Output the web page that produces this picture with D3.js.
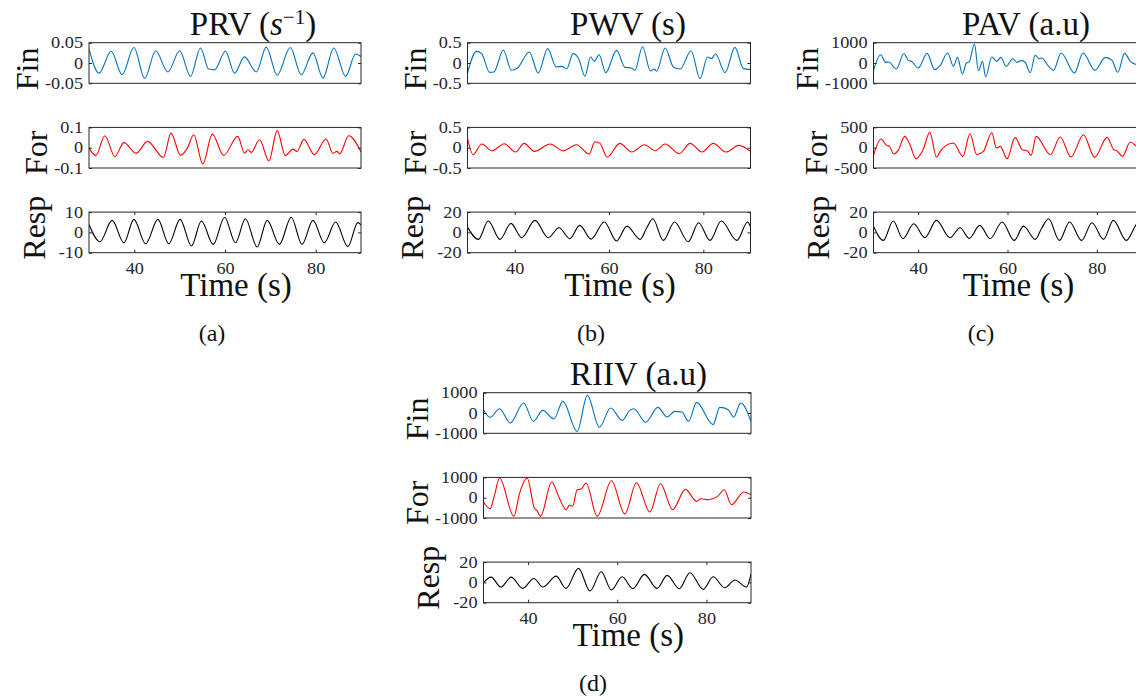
<!DOCTYPE html>
<html>
<head>
<meta charset="utf-8">
<script src="https://cdn.jsdelivr.net/npm/d3@7"></script>
<style>
  body { margin: 0; background: #fff; }
  svg { display: block; }
</style>
</head>
<body>
<svg id="fig" width="1136" height="700"></svg>
<script>
// traces, [time (s), value]
const prvFin = [[30,0.035],[32.2,-0.025],[34.9,0.029],[37.3,-0.029],[39.9,0.038],[42.3,-0.038],[44.7,0.030],[47.4,-0.022],[50.0,0.030],[52.4,-0.033],[54.6,0.037],[56.4,-0.015],[57.7,-0.017],[60.1,0.029],[62.1,-0.025],[64.3,0.015],[66.9,-0.022],[69.1,0.039],[71.5,-0.030],[74.4,0.038],[76.8,-0.029],[79.4,0.025],[81.6,-0.037],[84.0,0.037],[86.6,-0.033],[88.8,0.022],[90,0.016]];
const prvFor = [[30,-0.002],[31.5,-0.038],[33.5,0.059],[35.7,-0.044],[37.7,0.025],[40.4,-0.028],[42.9,0.031],[46.4,-0.048],[48.1,0.072],[50.2,-0.038],[51.7,-0.002],[53.1,0.064],[55.1,-0.080],[57.2,0.067],[59.7,-0.038],[62.8,0.056],[64.3,-0.026],[65.1,-0.010],[65.8,-0.023],[67.6,0.039],[69.7,-0.064],[71.5,0.084],[73.3,-0.039],[75.0,-0.007],[75.9,-0.018],[77.4,0.041],[79.7,-0.034],[82.3,0.043],[83.8,-0.028],[84.7,-0.018],[85.3,-0.030],[87.3,0.059],[90,-0.021]];
const prvResp = [[30,3.9],[32.4,-4.6],[35.1,5.9],[37.7,-5.1],[39.9,6.4],[42.5,-5.6],[45.2,6.4],[47.6,-5.6],[50.1,6.4],[52.6,-6.7],[54.8,5.6],[57.4,-5.9],[59.9,7.5],[62.3,-5.1],[64.5,6.7],[67.1,-7.2],[69.3,5.9],[72.0,-5.9],[74.6,7.5],[77.0,-5.9],[79.4,5.9],[81.9,-5.1],[84.4,5.1],[87.1,-7.0],[89.3,4.8],[90,3.6]];

const pwvFin = [[30,-0.246],[31.9,0.287],[33.0,0.230],[34.7,-0.230],[35.6,-0.221],[37.6,0.320],[39.3,-0.180],[40.6,-0.123],[43.1,0.271],[45.0,-0.246],[47.0,0.353],[48.8,-0.098],[50.0,-0.082],[51.0,-0.148],[52.4,0.230],[53.6,0.098],[54.9,-0.328],[56.1,0.148],[56.9,0.041],[57.9,0.205],[59.3,-0.238],[61.6,0.312],[63.4,-0.107],[64.8,-0.123],[65.5,-0.180],[67.1,0.402],[68.8,-0.197],[69.6,-0.148],[70.1,-0.205],[71.9,0.369],[73.7,-0.107],[75.1,-0.148],[77.4,0.303],[79.3,-0.385],[80.9,0.148],[81.7,0.107],[82.6,0.221],[84.6,-0.238],[86.7,0.385],[88.5,-0.139],[90,-0.164]];
const pwvFor = [[30,0.238],[31.2,-0.172],[33.0,0.090],[35.2,-0.074],[37.8,0.098],[40.2,-0.107],[42.0,0.107],[44.2,-0.090],[47.5,0.090],[50.3,-0.074],[53.1,0.074],[55.8,-0.156],[57.0,0.148],[58.1,0.107],[59.6,-0.230],[62.3,0.107],[64.8,-0.107],[67.5,0.074],[69.8,-0.074],[71.9,0.090],[74.9,-0.148],[77.2,0.107],[79.7,-0.107],[82.1,0.107],[84.8,-0.107],[87.5,0.057],[90,-0.090]];
const pwvResp = [[30,5.2],[32.3,-6.9],[34.4,11.2],[36.9,-6.9],[39.2,8.9],[41.5,-5.2],[44.3,11.8],[47.1,-5.2],[49.4,4.6],[51.7,-6.2],[53.8,6.9],[56.2,-6.6],[59.0,10.2],[61.6,-8.5],[63.8,6.2],[66.6,-6.9],[68.0,4.6],[69.3,13.4],[71.5,-7.9],[73.9,10.2],[76.8,-9.2],[79.0,9.5],[81.4,-7.9],[83.8,11.2],[87.1,-7.9],[89.4,10.2],[90,5.2]];

const pavFin = [[30,-377],[31.6,410],[32.7,33],[33.4,49],[35.1,-295],[36.8,459],[37.8,131],[38.5,82],[40.0,-246],[42.0,475],[43.7,-328],[44.9,-131],[46.6,492],[47.9,-164],[48.8,279],[49.9,-541],[50.8,0],[51.4,49],[52.6,934],[53.5,-377],[54.4,82],[55.1,-688],[56.5,295],[57.6,82],[58.5,279],[59.7,-164],[61.2,213],[62.1,33],[63.0,115],[63.9,49],[65.1,-475],[66.2,377],[67.1,213],[67.7,246],[69.2,-164],[70.3,-361],[72.0,492],[75.0,-492],[76.9,492],[79.6,-361],[81.9,279],[83.4,131],[84.7,-459],[86.2,475],[87.5,82],[88.9,-82],[90,-150]];
const pavFor = [[30,-189],[31.7,213],[32.9,57],[33.6,33],[34.5,-156],[35.5,-74],[37.0,279],[38.1,90],[39.5,-270],[41.1,-49],[42.6,377],[44.1,-230],[45.2,-49],[47.9,115],[50.0,-213],[51.6,344],[53.1,-172],[54.6,-90],[56.5,369],[57.5,-8],[58.4,33],[59.9,-270],[61.7,254],[63.3,-49],[64.4,-74],[65.3,-189],[66.4,279],[69.6,-172],[71.8,262],[74.2,-230],[77.0,320],[79.5,-238],[82.3,254],[83.8,-49],[84.5,-74],[85.7,-213],[87.5,139],[88.9,33],[90,-50]];
const pavResp = [[30,6.2],[32.2,-7.9],[34.4,11.2],[36.6,-6.2],[39.0,8.5],[41.5,-5.2],[44.1,11.8],[47.1,-5.2],[49.4,4.6],[51.4,-5.9],[53.8,6.9],[56.1,-6.2],[58.8,10.2],[61.5,-7.9],[63.6,6.2],[66.2,-6.9],[67.7,4.6],[69.2,13.4],[71.6,-7.9],[73.9,10.2],[76.6,-7.9],[78.9,9.5],[81.5,-6.9],[83.7,11.8],[86.6,-7.9],[89.4,10.2],[90,6]];

const riivFin = [[30,164],[31.5,-213],[33.6,213],[36.0,-492],[39.0,492],[41.2,-410],[43.3,131],[45.8,-295],[47.8,574],[51.0,-902],[53.3,869],[56.0,-705],[58.5,246],[61.1,-361],[62.8,131],[63.7,213],[66.4,-459],[69.1,279],[71.2,-197],[72.9,82],[74.5,49],[76.0,-410],[77.8,525],[81.5,-574],[83.0,279],[84.9,164],[86.1,-197],[87.7,492],[90,-410]];
const riivFor = [[30,-213],[31.5,-541],[32.4,66],[33.6,967],[36.8,-918],[38.1,229],[39.8,967],[41.4,-508],[42.0,-639],[42.8,-918],[45.3,770],[47.0,-16],[48.5,-590],[49.3,-377],[50.0,-410],[51.0,393],[51.9,426],[53.0,721],[55.5,-918],[58.7,836],[61.7,-803],[64.3,738],[67.3,-705],[69.7,688],[72.4,-590],[75.3,410],[77.8,-180],[78.7,-49],[80.4,-98],[82.5,66],[84.0,393],[85.6,-344],[88.4,279],[90,148]];
const riivResp = [[30,-0.3],[31.7,5.2],[33.9,-4.6],[36.2,5.2],[38.8,-5.9],[41.3,3.9],[43.3,-4.6],[46.3,6.2],[48.5,-5.9],[51.3,13.8],[53.9,-8.5],[56.4,10.5],[58.7,-7.5],[61.1,5.6],[63.5,-6.2],[66.1,7.9],[68.9,-5.9],[71.2,6.9],[73.9,-6.2],[76.3,9.5],[79.3,-6.9],[81.5,5.6],[84.1,-5.2],[86.4,2.3],[89.0,-4.6],[90,8.5]];

const timeRange = [30, 90];
const xTicks = [40, 60, 80];
const rowNames = ['Fin', 'For', 'Resp'];
const rowColors = ['#0072bd', '#ff0000', '#000000'];
const captions = ['(a)', '(b)', '(c)', '(d)'];
// symmetric y limits per row (Fin, For, Resp)
const limits = [[0.05, 0.1, 10], [0.5, 0.5, 20], [1000, 500, 20], [1000, 1000, 20]];
const titles = [
  [{t: 'PRV ('}, {t: 's', it: true}, {t: '\u22121', sup: true}, {t: ')'}],
  [{t: 'PWV (s)'}],
  [{t: 'PAV (a.u)'}],
  [{t: 'RIIV (a.u)'}]
];
const traces = [
  [prvFin, prvFor, prvResp],
  [pwvFin, pwvFor, pwvResp],
  [pavFin, pavFor, pavResp],
  [riivFin, riivFor, riivResp]
];

// page placement of each panel
const layout = [
  {x0: 89,    x1: 361,    top: 42.7,  titleX: 253,   cap: 212},
  {x0: 467.5, x1: 750.5,  top: 42.7,  titleX: 628,   cap: 591},
  {x0: 873.5, x1: 1141.5, top: 42.7,  titleX: 1026,  cap: 981},
  {x0: 483.5, x1: 751,    top: 392.7, titleX: 638.5, cap: 593}
];
const axH = 40.6, pitch = 84.7;
const serif = '"Liberation Serif", "Times New Roman", serif';
const ink = '#262626';
const tickStretch = 1.14;   // the figure's tick digits are wider than Times

const svg = d3.select('#fig');
const defs = svg.append('defs');

function styleTicks(a) {
  a.attr('font-family', serif).attr('font-size', 16).style('color', ink);
  a.selectAll('text').each(function () {
    const w = this.getComputedTextLength();
    if (w > 0) {
      this.setAttribute('textLength', w * tickStretch);
      this.setAttribute('lengthAdjust', 'spacingAndGlyphs');
    }
  });
}

traces.forEach((rows, i) => {
  const L = layout[i];
  const x = d3.scaleLinear().domain(timeRange).range([L.x0, L.x1]);
  const g = svg.append('g');

  rows.forEach((data, j) => {
    const top = L.top + j * pitch, bot = top + axH;
    const lim = limits[i][j];
    const y = d3.scaleLinear().domain([-lim, lim]).range([bot, top]);
    const yt = [-lim, 0, lim];

    const cid = 'clip' + i + j;
    defs.append('clipPath').attr('id', cid)
      .append('rect').attr('x', L.x0).attr('y', top)
      .attr('width', L.x1 - L.x0).attr('height', axH);

    g.append('path')
      .datum(data)
      .attr('clip-path', `url(#${cid})`)
      .attr('fill', 'none')
      .attr('stroke', rowColors[j])
      .attr('stroke-width', 1.1)
      .attr('d', d3.line()
        .x(d => x(d[0]))
        .y(d => y(d[1]))
        .curve(d3.curveMonotoneX));

    g.append('rect')
      .attr('x', L.x0).attr('y', top)
      .attr('width', L.x1 - L.x0).attr('height', axH)
      .attr('fill', 'none').attr('stroke', ink).attr('stroke-width', 1);

    const ay = g.append('g')
      .attr('transform', `translate(${L.x0},0)`)
      .call(d3.axisLeft(y).tickValues(yt).tickFormat(v => String(v))
        .tickSizeInner(-3).tickSizeOuter(0).tickPadding(6));
    ay.select('.domain').remove();
    styleTicks(ay);

    const ayr = g.append('g')
      .attr('transform', `translate(${L.x1},0)`)
      .call(d3.axisRight(y).tickValues(yt).tickFormat('')
        .tickSizeInner(-3).tickSizeOuter(0));
    ayr.select('.domain').remove();
    ayr.style('color', ink);

    if (j === 2) {
      const ax = g.append('g')
        .attr('transform', `translate(0,${bot})`)
        .call(d3.axisBottom(x).tickValues(xTicks).tickFormat(d3.format('d'))
          .tickSizeInner(-3).tickSizeOuter(0).tickPadding(10));
      ax.select('.domain').remove();
      styleTicks(ax);

      const axt = g.append('g')
        .attr('transform', `translate(0,${top})`)
        .call(d3.axisTop(x).tickValues(xTicks).tickFormat('')
          .tickSizeInner(-3).tickSizeOuter(0));
      axt.select('.domain').remove();
      axt.style('color', ink);

      g.append('text')
        .attr('x', (L.x0 + L.x1) / 2 + 11)
        .attr('y', bot + 43)
        .attr('text-anchor', 'middle')
        .attr('font-family', serif).attr('font-size', 33).attr('fill', '#111')
        .text('Time (s)');

      g.append('text')
        .attr('x', L.cap)
        .attr('y', bot + 88)
        .attr('text-anchor', 'middle')
        .attr('font-family', serif).attr('font-size', 24).attr('fill', '#111')
        .text(captions[i]);
    }

    // ylabel sits just left of the widest tick label
    const tickLeft = L.x0 + d3.min(ay.selectAll('text').nodes(), n => n.getBBox().x);
    const bx = tickLeft - (j === 2 ? 14 : 7);
    g.append('text')
      .attr('transform', `translate(${bx},${bot + 7}) rotate(-90)`)
      .attr('font-family', serif).attr('font-size', 32).attr('fill', '#111')
      .text(rowNames[j]);
  });

  const tt = g.append('text')
    .attr('x', L.titleX).attr('y', L.top - 8)
    .attr('text-anchor', 'middle')
    .attr('font-family', serif).attr('font-size', 33).attr('fill', '#111');
  let lift = 0;
  titles[i].forEach(part => {
    const span = tt.append('tspan').text(part.t);
    if (part.sup) {
      span.attr('dy', -11).attr('font-size', 21);
      lift = 11;
    } else {
      if (lift) { span.attr('dy', lift); lift = 0; }
      if (part.it) span.attr('font-style', 'italic');
    }
  });
});
</script>
</body>
</html>
